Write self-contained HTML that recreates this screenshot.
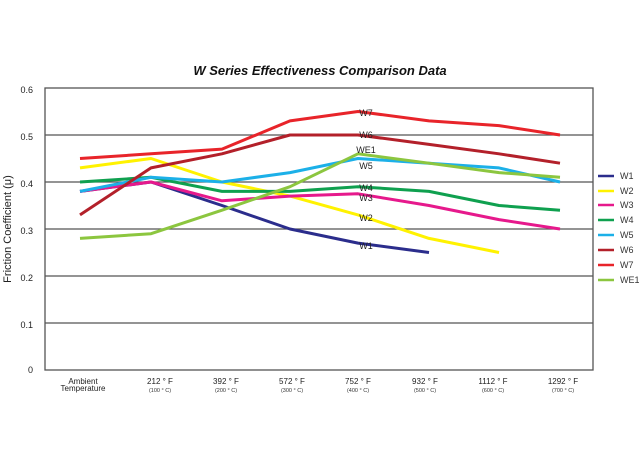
<!DOCTYPE html>
<html><head><meta charset="utf-8"><style>
html,body{margin:0;padding:0;background:#fff;}
svg{display:block;font-family:"Liberation Sans",Arial,sans-serif;}
</style></head><body>
<svg width="639" height="455" viewBox="0 0 639 455" xmlns="http://www.w3.org/2000/svg">
<rect width="639" height="455" fill="#fff"/>
<text x="320" y="75" text-anchor="middle" font-size="13" font-weight="bold" font-style="italic" fill="#111">W Series Effectiveness Comparison Data</text>
<g stroke="#555" stroke-width="1.3" fill="none">
<rect x="45" y="88" width="548" height="282"/>
<line x1="45" y1="135" x2="593" y2="135"/>
<line x1="45" y1="182" x2="593" y2="182"/>
<line x1="45" y1="229" x2="593" y2="229"/>
<line x1="45" y1="276" x2="593" y2="276"/>
<line x1="45" y1="323" x2="593" y2="323"/>
</g>
<g font-size="9" fill="#222" text-anchor="end">
<text x="33" y="93">0.6</text><text x="33" y="140">0.5</text><text x="33" y="187">0.4</text>
<text x="33" y="234">0.3</text><text x="33" y="281">0.2</text><text x="33" y="328">0.1</text><text x="33" y="373">0</text>
</g>
<text transform="translate(11,229) rotate(-90)" text-anchor="middle" font-size="11" fill="#222">Friction Coefficient (μ)</text>
<g font-size="8" fill="#222" text-anchor="middle">
<text x="83" y="384">Ambient</text><text x="83" y="391">Temperature</text>
<text x="160" y="384">212 ° F</text><text x="226" y="384">392 ° F</text><text x="292" y="384">572 ° F</text>
<text x="358" y="384">752 ° F</text><text x="425" y="384">932 ° F</text><text x="493" y="384">1112 ° F</text><text x="563" y="384">1292 ° F</text>
</g>
<g font-size="5.5" fill="#333" text-anchor="middle">
<text x="160" y="392">(100 ° C)</text><text x="226" y="392">(200 ° C)</text><text x="292" y="392">(300 ° C)</text>
<text x="358" y="392">(400 ° C)</text><text x="425" y="392">(500 ° C)</text><text x="493" y="392">(600 ° C)</text><text x="563" y="392">(700 ° C)</text>
</g>
<g fill="none" stroke-width="3" stroke-linejoin="round">
<polyline stroke="#2b2d8c" points="80,191.4 151,182 222,205.5 290,229 358,243.1 429,252.5"/>
<polyline stroke="#fff200" points="80,167.9 151,158.5 222,182 290,196.1 358,214.9 429,238.4 499,252.5"/>
<polyline stroke="#e6198c" points="80,191.4 151,182 222,200.8 290,196.1 358,193.8 429,205.5 499,219.6 560,229"/>
<polyline stroke="#0fa04f" points="80,182 151,177.3 222,191.4 290,191.4 358,186.7 429,191.4 499,205.5 560,210.2"/>
<polyline stroke="#1cb0e8" points="80,191.4 151,177.3 222,182 290,172.6 358,158.5 429,163.2 499,167.9 560,182"/>
<polyline stroke="#b3202a" points="80,214.9 151,167.9 222,153.8 290,135 358,135 429,144.4 499,153.8 560,163.2"/>
<polyline stroke="#e8242a" points="80,158.5 151,153.8 222,149.1 290,120.9 358,111.5 429,120.9 499,125.6 560,135"/>
<polyline stroke="#8cc63f" points="80,238.4 151,233.7 222,210.2 290,186.7 358,153.8 429,163.2 499,172.6 560,177.3"/>
</g>
<g font-size="9" fill="#222" text-anchor="middle">
<text x="366" y="116">W7</text><text x="366" y="138">W6</text><text x="366" y="153">WE1</text><text x="366" y="169">W5</text>
<text x="366" y="191">W4</text><text x="366" y="201">W3</text><text x="366" y="221">W2</text><text x="366" y="249">W1</text>
</g>
<g stroke-width="2.5">
<line x1="598" y1="176" x2="614" y2="176" stroke="#2b2d8c"/>
<line x1="598" y1="191" x2="614" y2="191" stroke="#fff200"/>
<line x1="598" y1="205" x2="614" y2="205" stroke="#e6198c"/>
<line x1="598" y1="220" x2="614" y2="220" stroke="#0fa04f"/>
<line x1="598" y1="235" x2="614" y2="235" stroke="#1cb0e8"/>
<line x1="598" y1="250" x2="614" y2="250" stroke="#b3202a"/>
<line x1="598" y1="265" x2="614" y2="265" stroke="#e8242a"/>
<line x1="598" y1="280" x2="614" y2="280" stroke="#8cc63f"/>
</g>
<g font-size="9" fill="#333">
<text x="620" y="179">W1</text><text x="620" y="194">W2</text><text x="620" y="208">W3</text><text x="620" y="223">W4</text>
<text x="620" y="238">W5</text><text x="620" y="253">W6</text><text x="620" y="268">W7</text><text x="620" y="283">WE1</text>
</g>
</svg>
</body></html>
